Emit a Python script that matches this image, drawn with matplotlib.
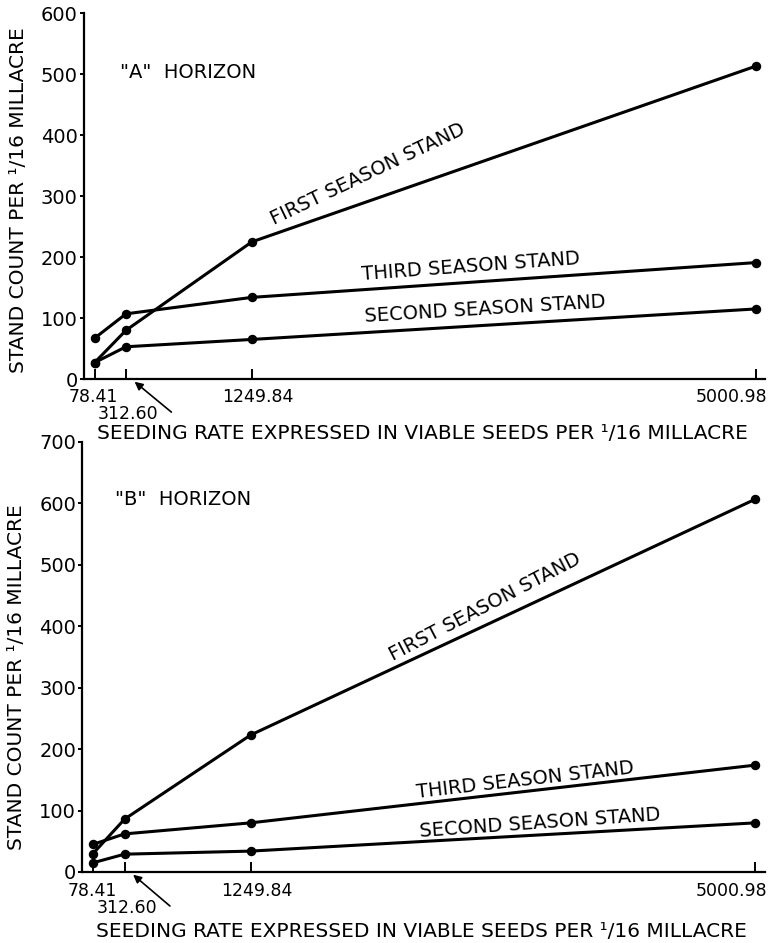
import matplotlib
matplotlib.use("Agg")
from matplotlib import pyplot as plt

# seeding rates (viable seeds per 1/16 millacre)
seed_rate = [78.41, 312.60, 1249.84, 5000.98]
rate_labels = ["78.41", "312.60", "1249.84", "5000.98"]

# "A" horizon stand counts
a_first = [27, 80, 225, 513]
a_second = [27, 53, 65, 115]
a_third = [67, 107, 134, 191]

# "B" horizon stand counts
b_first = [30, 86, 223, 607]
b_second = [15, 29, 34, 80]
b_third = [45, 62, 80, 174]

curve_names = ["FIRST SEASON STAND", "SECOND SEASON STAND", "THIRD SEASON STAND"]

plt.rcParams['font.family'] = ['DejaVu Sans']
PX = 0.72  # points per pixel at dpi 100

fig = plt.figure(figsize=(7.78, 9.43), dpi=100)
ax1 = fig.add_axes([0.108, 0.598, 0.875, 0.388])
ax2 = fig.add_axes([0.106, 0.0753, 0.877, 0.456])


def panel(ax, ymax, series, title, title_xy, label_spots, ylab_shift, lab_drop, xlab_drop):
    for ys in series:
        ax.plot(seed_rate, ys, color='black', lw=2.2, marker='o', ms=5.8,
                solid_capstyle='round')
    ax.set_xlim(0, 5070)
    ax.set_ylim(0, ymax)
    for s in ['top', 'right']:
        ax.spines[s].set_visible(False)
    for s in ['left', 'bottom']:
        ax.spines[s].set_linewidth(1.6)
    ax.set_yticks(range(0, ymax + 1, 100))
    ax.tick_params(axis='y', direction='out', length=3, width=1.4, pad=1.5,
                   labelsize=14)
    ax.set_xticks(seed_rate)
    ax.set_xticklabels([])
    ax.tick_params(axis='x', direction='in', length=7, width=1.4)

    # tick labels drawn by hand so 312.60 can sit under an arrow
    shifts = [-1, 0, 6, -24]
    for x, lab, dx in zip(seed_rate, rate_labels, shifts):
        if lab == "312.60":
            ax.annotate(lab, xy=(x, 0), xycoords='data',
                        xytext=(2 * PX, -(lab_drop + 17) * PX), textcoords='offset points',
                        ha='center', va='center', fontsize=12.5)
            ax.annotate("", xy=(x + 40, 0), xycoords='data',
                        xytext=(40 * PX, -(lab_drop + 15) * PX), textcoords='offset points',
                        arrowprops=dict(arrowstyle='-|>', color='black', lw=1.2,
                                        mutation_scale=12, shrinkA=0, shrinkB=3))
        else:
            ax.annotate(lab, xy=(x, 0), xycoords='data',
                        xytext=(dx * PX, -lab_drop * PX), textcoords='offset points',
                        ha='center', va='center', fontsize=12.5)

    ax.annotate("SEEDING RATE EXPRESSED IN VIABLE SEEDS PER \u00b9/16 MILLACRE",
                xy=(0.5, 0), xycoords='axes fraction',
                xytext=(-2 * PX, -xlab_drop * PX), textcoords='offset points',
                ha='center', va='center', fontsize=14.5)
    ax.annotate("STAND COUNT PER \u00b9/16 MILLACRE",
                xy=(0, 0.5), xycoords='axes fraction',
                xytext=(-66 * PX, ylab_shift * PX), textcoords='offset points',
                ha='center', va='center', rotation=90, fontsize=14.5)
    ax.text(title_xy[0], title_xy[1], title, ha='left', va='center', fontsize=14)

    for name, (x, y, rot) in zip(curve_names, label_spots):
        ax.text(x, y, name, ha='center', va='center', rotation=rot,
                rotation_mode='anchor', fontsize=14)


panel(ax1, 600, [a_first, a_second, a_third], '"A"  HORIZON', (268, 502),
      [(2110, 336, 25.5), (2990, 114, 3.5), (2880, 184, 4.2)], -4, 18, 54)
panel(ax2, 700, [b_first, b_second, b_third], '"B"  HORIZON', (242, 606),
      [(2990, 432, 27.5), (3400, 79, 4.0), (3290, 150, 6.5)], -20, 19, 60)

fig.savefig('out.png', dpi=100)
